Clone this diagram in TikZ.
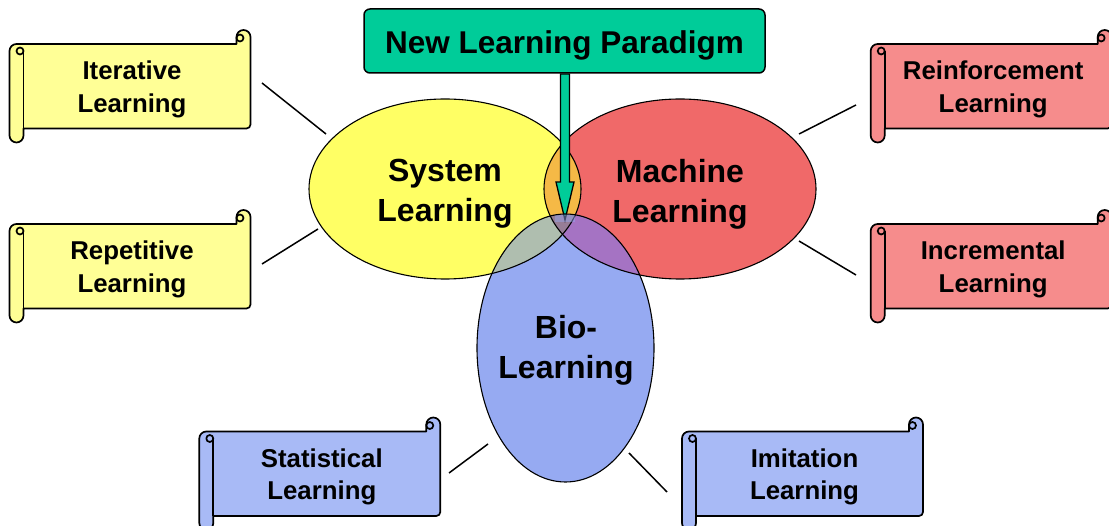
\documentclass[tikz,border=0pt]{standalone}
\usepackage{fontspec}
\setmainfont{Liberation Sans}
\usetikzlibrary{shapes.geometric,calc}
\definecolor{ylwscroll}{RGB}{255,255,150}
\definecolor{redscroll}{RGB}{246,140,140}
\definecolor{bluescroll}{RGB}{168,186,246}
\definecolor{ylwell}{RGB}{255,255,100}
\definecolor{redell}{RGB}{240,105,105}
\definecolor{blueell}{RGB}{150,170,242}
\definecolor{orng}{RGB}{245,185,70}
\definecolor{bluylw}{RGB}{175,190,175}
\definecolor{blured}{RGB}{165,115,195}
\definecolor{tripleov}{RGB}{150,125,150}
\definecolor{paragreen}{RGB}{0,204,153}
\tikzset{
  scrollline/.style={line width=1.7pt, line join=round},
  scrolltext/.style={font=\fontsize{25.8pt}{32.3pt}\selectfont\bfseries, align=center, inner sep=0pt},
  elltext/.style={font=\fontsize{32pt}{40pt}\selectfont\bfseries, align=center, inner sep=0pt},
  ellline/.style={draw=black, line width=1.1pt, ellipse, inner sep=0pt, outer sep=0pt},
  conn/.style={line width=1.5pt, black},
  titlebox/.style={draw=black, line width=1.5pt, fill=paragreen, rounded corners=6pt,
     minimum width=401pt, minimum height=64pt, inner sep=0pt, text height=29pt, text depth=3pt,
     font=\fontsize{31.5pt}{38pt}\selectfont\bfseries}
}
\newcommand{\myscroll}[5]{%
  \begin{scope}[shift={(#1,#2)}]
    \filldraw[scrollline, fill=#3] (7,14) -- (227,14) -- (227,7)
      arc[start angle=180, end angle=360, radius=7] -- (241,94.5)
      arc[start angle=0, end angle=90, radius=4] -- (14,98.5) -- (14,105.5)
      arc[start angle=0, end angle=180, radius=7] -- (0,21)
      arc[start angle=180, end angle=270, radius=7] -- cycle;
    \draw[scrollline] (14,21) -- (14,98.5);
    \draw[scrollline] (10.5,21) circle[radius=3.5];
    \draw[scrollline] (230.5,8) circle[radius=3.5];
    \node[scrolltext] (#4) at (122.5,59.5) {#5};
  \end{scope}}
\begin{document}
\begin{tikzpicture}[x=1pt,y=-1pt]
\useasboundingbox (0,0) rectangle (1109,526);
\clip (0,0) rectangle (1109,526);
\fill[white] (0,0) rectangle (1109,526);

% scrolls
\myscroll{9.5}{30}{ylwscroll}{iter}{Iterative\\Learning}
\myscroll{9.5}{210}{ylwscroll}{repet}{Repetitive\\Learning}
\myscroll{870.7}{30}{redscroll}{reinf}{Reinforcement\\Learning}
\myscroll{870.7}{210}{redscroll}{incr}{Incremental\\Learning}
\myscroll{199.3}{417.5}{bluescroll}{stat}{Statistical\\Learning}
\myscroll{682}{417.5}{bluescroll}{imit}{Imitation\\Learning}

% ellipse fills
\fill[ylwell] (445,189) ellipse[x radius=136, y radius=90];
\fill[redell] (680,189) ellipse[x radius=136, y radius=90];
\begin{scope}
  \clip (445,189) ellipse[x radius=136, y radius=90];
  \fill[orng] (680,189) ellipse[x radius=136, y radius=90];
\end{scope}
\fill[blueell] (565.5,348) ellipse[x radius=88.5, y radius=134];
\begin{scope}
  \clip (565.5,348) ellipse[x radius=88.5, y radius=134];
  \fill[bluylw] (445,189) ellipse[x radius=136, y radius=90];
  \fill[blured] (680,189) ellipse[x radius=136, y radius=90];
  \clip (445,189) ellipse[x radius=136, y radius=90];
  \fill[tripleov] (680,189) ellipse[x radius=136, y radius=90];
\end{scope}

% ellipse outlines
\node[ellline, minimum width=272pt, minimum height=180pt] (sys) at (445,189) {};
\node[ellline, minimum width=272pt, minimum height=180pt] (mach) at (680,189) {};

% title and arrow
\node[titlebox] (para) at (564.5,41) {New Learning Paradigm};
\coordinate (tip) at (565,220);
\begin{scope}[shift={(tip)}]
  \filldraw[fill=paragreen, line width=1.3pt, line join=miter]
    (-4.5,-146) -- (4.5,-146) -- (4.5,-38) -- (9,-38) -- (0,0) -- (-9,-38) -- (-4.5,-38) -- cycle;
\end{scope}
\begin{scope}
  \clip (565.5,348) ellipse[x radius=88.5, y radius=134];
  \fill[blueell, opacity=0.45] (tip) ++(-10,-40) rectangle ++(20,42);
\end{scope}
\node[ellline, minimum width=177pt, minimum height=268pt] (bio) at (565.5,348) {};

% texts in ellipses
\node[elltext] (systxt) at (445,194) {System\\Learning};
\node[elltext] (machtxt) at (680,194) {Machine\\Learning};
\node[elltext] (biotxt) at (566,350) {Bio-\\Learning};

% connectors
\coordinate (iterE) at (262,83);   \coordinate (sysNW) at (326,134);
\coordinate (repetE) at (262,264); \coordinate (sysSW) at (318,229);
\coordinate (reinfW) at (856,105); \coordinate (machNE) at (799,134);
\coordinate (incrW) at (856,275);  \coordinate (machSE) at (799,241);
\coordinate (statE) at (449,473);  \coordinate (bioSW) at (488,444);
\coordinate (imitW) at (667,492);  \coordinate (bioSE) at (629,453);
\draw[conn] (iterE) -- (sysNW);
\draw[conn] (repetE) -- (sysSW);
\draw[conn] (reinfW) -- (machNE);
\draw[conn] (incrW) -- (machSE);
\draw[conn] (statE) -- (bioSW);
\draw[conn] (imitW) -- (bioSE);
\end{tikzpicture}
\end{document}
